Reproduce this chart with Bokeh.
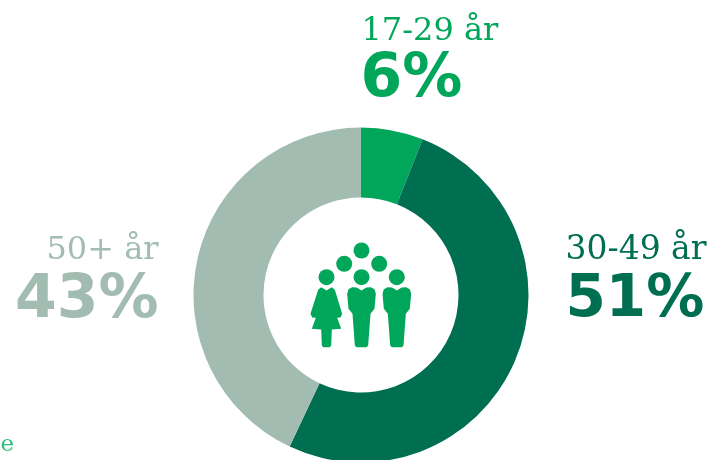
from math import pi
from bokeh.plotting import figure
from bokeh.models import Range1d
from bokeh.core.properties import value
from bokeh.embed import file_html
from bokeh.resources import INLINE

groups = ["17-29 år", "30-49 år", "50+ år"]
shares = [6, 51, 43]
colors = ["#00A65A", "#006F51", "#A2BCB2"]

W, H = 725, 460
p = figure(width=W, height=H, output_backend="svg", toolbar_location=None,
           x_range=Range1d(0, W), y_range=Range1d(0, H), min_border=0,
           outline_line_color=None, border_fill_color=None)
p.axis.visible = False
p.grid.visible = False
p.styles = {"position": "fixed", "left": "0px", "top": "0px"}

def Y(v):
    return H - v

# donut, clockwise from twelve o'clock
cx, cy = 360.5, Y(294.5)
total = sum(shares)
start = pi / 2
for s, c in zip(shares, colors):
    end = start - 2 * pi * s / total
    p.annular_wedge(x=cx, y=cy, inner_radius=97.5, outer_radius=167.5,
                    start_angle=start, end_angle=end, direction="clock",
                    fill_color=c, line_color=None)
    start = end

# icon
icon = "#00A65A"
heads = [(361, 250), (343.7, 263.3), (378.7, 263.3), (326, 276.7), (361, 276.7), (396.3, 276.7)]
p.circle(x=[h[0] for h in heads], y=[Y(h[1]) for h in heads], radius=8,
         fill_color=icon, line_color=None)

def z(px, py, dx=0):
    return 290 + (px + dx) / 3, Y(230 + py / 3)

man = [(185,170),(198,171),(205,175),(213,180),(221,175),(228,171),(241,170),(252,176),(256,190),(252,235),
       (240,250),(233,345),(228,350),(198,350),(193,345),(186,250),(174,235),(170,190),(174,176)]
woman = [(92,170),(100,175),(108,180),(116,175),(124,170),(133,178),(155,250),(150,261),(140,262),(152,295),
         (124,297),(122,345),(118,350),(98,350),(94,345),(92,297),(64,295),(76,262),(65,261),(60,250),(83,178)]
for dx in (0, 106):
    pts = [z(a, b, dx) for a, b in man]
    p.patch(x=[q[0] for q in pts], y=[q[1] for q in pts], fill_color=icon, line_color=None)
pts = [z(a, b) for a, b in woman]
p.patch(x=[q[0] for q in pts], y=[q[1] for q in pts], fill_color=icon, line_color=None)

# labels
LIGHT = value("DejaVu Serif")
BOLD = value("DejaVu Sans")
def label(x, y, t, c, size, font, style="normal", align="left"):
    # the rendered baseline sits about 0.4 em below the anchor
    p.text(x=[x], y=[Y(y - 0.4 * size)], text=[t], text_color=c, text_font=font,
           text_font_size=value(f"{size}px"), text_font_style=style,
           text_align=align, text_baseline="alphabetic")

pct = [f"{s}%" for s in shares]
label(361, 41, groups[0], colors[0], 32, LIGHT)
label(360, 98, pct[0], colors[0], 60, BOLD, "bold")
label(565, 260, groups[1], colors[1], 33, LIGHT)
label(565, 319, pct[1], colors[1], 58, BOLD, "bold")
label(158, 260, groups[2], colors[2], 32, LIGHT, align="right")
label(158, 319, pct[2], colors[2], 60, BOLD, "bold", align="right")
label(0, 452, "e", "#2FBE7C", 23, LIGHT)

open("out.html", "w").write(file_html(p, INLINE))
